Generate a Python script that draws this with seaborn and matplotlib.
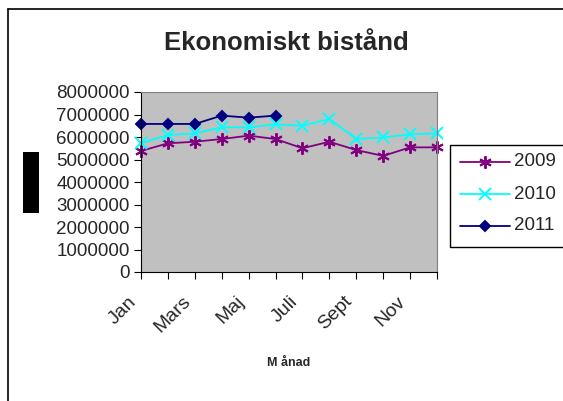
import pandas as pd
import numpy as np
import seaborn as sns
import matplotlib.pyplot as plt
import matplotlib.transforms as mtransforms
from matplotlib.patches import Rectangle
from matplotlib.lines import Line2D

months = ["Jan", "Feb", "Mars", "April", "Maj", "Juni", "Juli", "Aug", "Sept", "Okt", "Nov", "Dec"]
v2009 = [5380000, 5720000, 5790000, 5910000, 6060000, 5910000, 5500000, 5790000, 5420000, 5160000, 5540000, 5540000]
v2010 = [5720000, 6090000, 6160000, 6430000, 6430000, 6560000, 6500000, 6800000, 5910000, 5980000, 6120000, 6160000]
v2011 = [6580000, 6580000, 6580000, 6950000, 6860000, 6950000, np.nan, np.nan, np.nan, np.nan, np.nan, np.nan]
years = ["2009", "2010", "2011"]
yticks = [0, 1000000, 2000000, 3000000, 4000000, 5000000, 6000000, 7000000, 8000000]

df = pd.DataFrame({"pos": list(range(12)) * 3,
                   "year": [y for y in years for _ in range(12)],
                   "value": v2009 + v2010 + v2011}).dropna()

sns.set_style("white")
plt.rcParams["font.family"] = ["Liberation Sans", "DejaVu Sans"]

colors = {"2009": "#800080", "2010": "#00FFFF", "2011": "#000080"}
markers = {"2009": (6, 2, 0), "2010": "x", "2011": "D"}
msize = {"2009": 9, "2010": 9, "2011": 5.5}

fig = plt.figure(figsize=(5.63, 4.01), dpi=100)
fig.patch.set_facecolor("white")
ax = fig.add_axes([141 / 563, 1 - 272 / 401, 296 / 563, 180 / 401])
ax.set_facecolor("#C0C0C0")

sns.lineplot(data=df, x="pos", y="value", hue="year", hue_order=years,
             palette=colors, ax=ax, legend=False, linewidth=1.3)
for ln, y in zip(ax.lines, years):
    ln.set_clip_on(False)
    ln.set_marker(markers[y])
    ln.set_markersize(msize[y])
    ln.set_markeredgecolor(colors[y])
    ln.set_markerfacecolor(colors[y])
    ln.set_markeredgewidth(1.4)

ax.set_xlim(0, 11)
ax.set_ylim(0, 8000000)
ax.set_xticks(range(12))
ax.set_xticklabels([m if i % 2 == 0 else "" for i, m in enumerate(months)],
                   rotation=45, ha="right", rotation_mode="anchor", fontsize=14)
ax.set_yticks(yticks)
ax.set_yticklabels([str(v) for v in yticks], fontsize=13.5)
ax.tick_params(axis="both", direction="out", length=5, width=0.8, color="black",
               left=True, bottom=True, pad=3)
ax.tick_params(axis="x", pad=8)
shift = mtransforms.ScaledTranslation(-13 / 100, -3 / 100, fig.dpi_scale_trans)
for lab in ax.get_xticklabels():
    lab.set_transform(lab.get_transform() + shift)
for s in ["top", "right"]:
    ax.spines[s].set_color("#808080")
for s in ["left", "bottom"]:
    ax.spines[s].set_color("black")
ax.set_xlabel("M ånad", fontsize=9, fontweight="bold", labelpad=15)
ax.set_ylabel("")

fig.text(286 / 563, 1 - 43 / 401, "Ekonomiskt bistånd", ha="center", va="center",
         fontsize=18.5, fontweight="bold")

# chart frame edges
fig.add_artist(Line2D([8 / 563, 8 / 563], [0, 1 - 9 / 401], color="black", lw=1.2))
fig.add_artist(Line2D([8 / 563, 1], [1 - 9 / 401, 1 - 9 / 401], color="black", lw=1.2))
# black box where the y-axis title sits
fig.add_artist(Rectangle((23 / 563, 1 - 213 / 401), 16 / 563, 61 / 401,
                         transform=fig.transFigure, facecolor="black", edgecolor="none"))

# legend
fig.add_artist(Rectangle((450 / 563, 1 - 247 / 401), 120 / 563, 102 / 401,
                         transform=fig.transFigure, facecolor="white",
                         edgecolor="black", lw=1, clip_on=False))
for i, y in enumerate(years):
    yy = 1 - (162 + 32 * i) / 401
    fig.add_artist(Line2D([460 / 563, 510 / 563], [yy, yy], color=colors[y], lw=1.3,
                          transform=fig.transFigure))
    fig.add_artist(Line2D([485 / 563], [yy], color=colors[y], lw=0,
                          marker=markers[y], markersize=msize[y], markeredgewidth=1.4,
                          markeredgecolor=colors[y], transform=fig.transFigure))
    fig.text(514 / 563, yy, y, ha="left", va="center", fontsize=13.5)

fig.savefig("out.png", dpi=100)
